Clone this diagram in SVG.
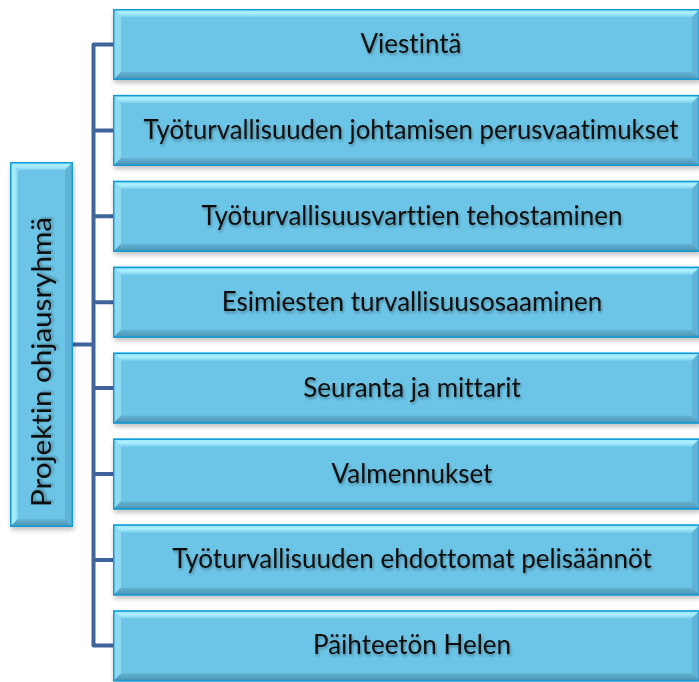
<svg xmlns="http://www.w3.org/2000/svg" xmlns:xlink="http://www.w3.org/1999/xlink" width="699" height="682" viewBox="0 0 699 682">
<style>
.face{fill:#6cc5e7}
.bt{fill:url(#gTop)}
.bl{fill:#8fd9f3}
.br{fill:#5eb3d6}
.bb{fill:url(#gBot)}
.edge{fill:none;stroke:#139bd8;stroke-width:1.5}
.lbl{font-family:Lato,"Open Sans","Liberation Sans",sans-serif;font-size:26px;fill:#111;text-anchor:middle;font-variant-ligatures:none;filter:url(#ts)}
.conn{fill:none;stroke:#3e649b;stroke-width:4;stroke-linejoin:round}
</style>
<defs>
<linearGradient id="gTop" x1="0" y1="0" x2="0" y2="1">
<stop offset="0" stop-color="#8fe3f8"/><stop offset="0.5" stop-color="#adefff"/><stop offset="1" stop-color="#7fd3ef"/>
</linearGradient>
<linearGradient id="gBot" x1="0" y1="0" x2="0" y2="1">
<stop offset="0" stop-color="#64b4d3"/><stop offset="1" stop-color="#4a90b0"/>
</linearGradient>
<linearGradient id="gL" x1="0" y1="0" x2="1" y2="0">
<stop offset="0" stop-color="#8fe3f8"/><stop offset="0.5" stop-color="#adefff"/><stop offset="1" stop-color="#7fd3ef"/>
</linearGradient>
<filter id="sh" x="-5%" y="-10%" width="110%" height="130%">
<feGaussianBlur stdDeviation="2.5"/>
</filter>
<filter id="ts" x="-5%" y="-30%" width="110%" height="160%">
<feGaussianBlur in="SourceAlpha" stdDeviation="1.5" result="b"/>
<feOffset dx="1" dy="2" result="o"/>
<feComponentTransfer in="o" result="s"><feFuncA type="linear" slope="0.35"/></feComponentTransfer>
<feMerge><feMergeNode in="s"/><feMergeNode in="SourceGraphic"/></feMerge>
</filter>
<g id="box">
<rect x="1" y="3" width="587" height="71" fill="#000" opacity="0.25" filter="url(#sh)"/>
<rect x="0" y="0" width="587" height="71" class="face"/>
<polygon points="0,0 587,0 579,8 8,8" class="bt"/>
<polygon points="0,0 8,8 8,63 0,71" class="bl"/>
<polygon points="587,0 587,71 579,63 579,8" class="br"/>
<polygon points="0,71 8,63 579,63 587,71" class="bb"/>
<rect x="0.75" y="0.75" width="585.5" height="69.5" class="edge"/>
</g>
</defs>

<g id="connectors">
<path class="conn" d="M113,44.5 H93.5 V645.5 H113"/>
<path class="conn" d="M93.5,130.4 H113 M93.5,216.3 H113 M93.5,302.2 H113 M93.5,388.1 H113 M93.5,474 H113 M93.5,559.9 H113"/>
<path class="conn" d="M73,344.5 H93.5"/>
</g>

<g id="root">
<rect x="11" y="165" width="63" height="365" fill="#000" opacity="0.25" filter="url(#sh)"/>
<rect x="10" y="162" width="63" height="365" class="face"/>
<polygon points="10,162 73,162 65,170 18,170" class="bt"/>
<polygon points="10,162 18,170 18,519 10,527" fill="url(#gL)"/>
<polygon points="73,162 73,527 65,519 65,170" class="br"/>
<polygon points="10,527 18,519 65,519 73,527" class="bb"/>
<rect x="10.75" y="162.75" width="61.5" height="363.5" class="edge"/>
<text class="lbl" transform="translate(51,362) rotate(-90)" textLength="290" lengthAdjust="spacingAndGlyphs">Projektin ohjausryhmä</text>
</g>

<g id="n1"><use xlink:href="#box" x="113" y="9"/><text class="lbl" x="411" y="53">Viestintä</text></g>
<g id="n2"><use xlink:href="#box" x="113" y="94.9"/><text class="lbl" x="411" y="138.9" textLength="535" lengthAdjust="spacingAndGlyphs">Työturvallisuuden johtamisen perusvaatimukset</text></g>
<g id="n3"><use xlink:href="#box" x="113" y="180.8"/><text class="lbl" x="412" y="224.8">Työturvallisuusvarttien tehostaminen</text></g>
<g id="n4"><use xlink:href="#box" x="113" y="266.7"/><text class="lbl" x="412" y="310.7">Esimiesten turvallisuusosaaminen</text></g>
<g id="n5"><use xlink:href="#box" x="113" y="352.6"/><text class="lbl" x="412" y="396.6">Seuranta ja mittarit</text></g>
<g id="n6"><use xlink:href="#box" x="113" y="438.5"/><text class="lbl" x="412" y="482.5">Valmennukset</text></g>
<g id="n7"><use xlink:href="#box" x="113" y="524.4"/><text class="lbl" x="412" y="568.4">Työturvallisuuden ehdottomat pelisäännöt</text></g>
<g id="n8"><use xlink:href="#box" x="113" y="610.3"/><text class="lbl" x="412" y="654.3">Päihteetön Helen</text></g>
</svg>
